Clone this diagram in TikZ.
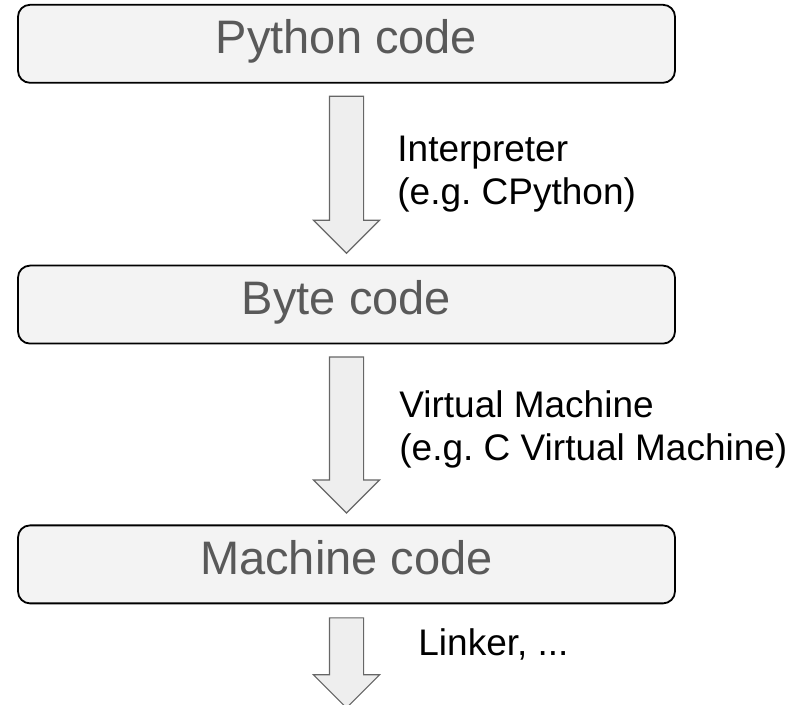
\documentclass[tikz,border=0pt]{standalone}
\usepackage{fontspec}
\setmainfont{Liberation Sans}
\usetikzlibrary{shapes.arrows, positioning}
\definecolor{boxfill}{RGB}{243,243,243}
\definecolor{arrowfill}{RGB}{238,238,238}
\definecolor{titlegray}{RGB}{89,89,89}
\definecolor{arrowline}{RGB}{102,102,102}
\frenchspacing

\begin{document}
\begin{tikzpicture}[
    box/.style={draw, line width=0.9pt, fill=boxfill, rounded corners=6pt, minimum width=328.5pt, minimum height=39pt,
        text=titlegray, font=\fontsize{23.5}{28}\selectfont, text height=16.5pt, text depth=6.5pt},
    flow/.style={single arrow, draw=arrowline, line width=0.6pt, fill=arrowfill, shape border rotate=270,
        inner sep=8.25pt, single arrow head extend=8pt, anchor=tail},
    lbl/.style={align=left, inner sep=0pt, anchor=west, font=\fontsize{18.5}{21.5}\selectfont}]
    \useasboundingbox (0,0) rectangle (402.5pt,-352.5pt);

    \draw node[box] (py) at (173.25pt,-21.9pt) {Python code};
    \draw node[below= 90.5pt of py, box] (byte) {Byte code};
    \draw node[below= 90pt of byte, box] (mach) {Machine code};

    \draw node[flow, minimum height=78.5pt] (a1) at ([yshift=-6pt]py.south) {};
    \draw node[flow, minimum height=78pt] (a2) at ([yshift=-6pt]byte.south) {};
    \draw node[flow, minimum height=45pt] (a3) at ([yshift=-6.5pt]mach.south) {};

    \draw node[right= 25.25pt of a1.center, lbl, yshift=-4pt] (interp) {Interpreter\\(e.g. CPython)};
    \draw node[right= 26.25pt of a2.center, lbl, yshift=-1.5pt] (vm) {Virtual Machine\\(e.g. C Virtual Machine)};
    \draw node[right= 35.75pt of a3.center, lbl, yshift=5pt] (link) {Linker, ...};
\end{tikzpicture}
\end{document}
